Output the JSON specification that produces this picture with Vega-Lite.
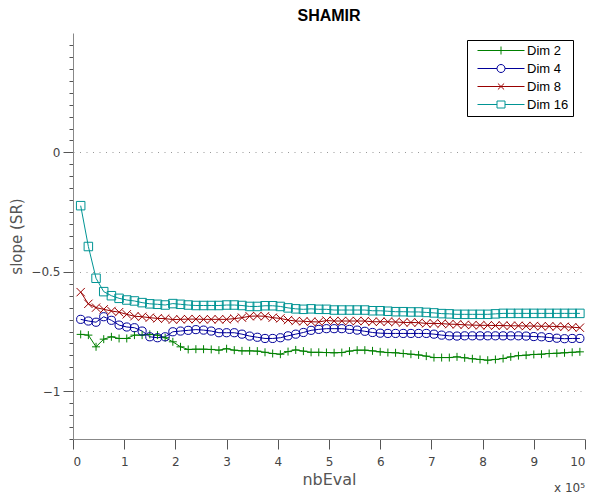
{
  "$schema": "https://vega.github.io/schema/vega-lite/v6.json",
  "width": 512,
  "height": 406,
  "autosize": {"type": "none"},
  "padding": {"left": 73, "top": 33, "right": 9, "bottom": 58},
  "title": {"text": "SHAMIR", "fontSize": 16, "fontWeight": "bold", "font": "Liberation Sans", "color": "#000000", "offset": 9, "anchor": "middle"},
  "resolve": {"scale": {"shape": "independent", "color": "independent"}},
  "config": {
    "view": {"stroke": null},
    "axis": {
      "labelFont": "DejaVu Sans",
      "titleFont": "DejaVu Sans",
      "labelColor": "#444444",
      "titleColor": "#555555",
      "titleFontWeight": "normal",
      "domainColor": "#888888",
      "tickColor": "#555555",
      "labelFontSize": 12,
      "tickCount": 100
    },
    "legend": {
      "labelFont": "Liberation Sans",
      "orient": "none",
      "legendX": 394,
      "legendY": 7,
      "fillColor": "#ffffff",
      "strokeColor": "#000000",
      "padding": 4,
      "cornerRadius": 0,
      "labelFontSize": 13,
      "labelColor": "#000000",
      "labelOffset": 43,
      "rowPadding": 4,
      "symbolSize": 64,
      "symbolStrokeWidth": 1,
      "symbolOpacity": 1
    }
  },
  "data": {
    "values": [
      {"x": 0.15, "Dim 2": -0.762, "Dim 4": -0.699, "Dim 8": -0.585, "Dim 16": -0.223},
      {"x": 0.3, "Dim 2": -0.765, "Dim 4": -0.706, "Dim 8": -0.634, "Dim 16": -0.394},
      {"x": 0.45, "Dim 2": -0.814, "Dim 4": -0.711, "Dim 8": -0.65, "Dim 16": -0.527},
      {"x": 0.6, "Dim 2": -0.782, "Dim 4": -0.688, "Dim 8": -0.657, "Dim 16": -0.583},
      {"x": 0.75, "Dim 2": -0.772, "Dim 4": -0.703, "Dim 8": -0.664, "Dim 16": -0.6},
      {"x": 0.9, "Dim 2": -0.779, "Dim 4": -0.723, "Dim 8": -0.669, "Dim 16": -0.611},
      {"x": 1.05, "Dim 2": -0.779, "Dim 4": -0.731, "Dim 8": -0.678, "Dim 16": -0.618},
      {"x": 1.2, "Dim 2": -0.765, "Dim 4": -0.734, "Dim 8": -0.686, "Dim 16": -0.622},
      {"x": 1.35, "Dim 2": -0.765, "Dim 4": -0.748, "Dim 8": -0.688, "Dim 16": -0.629},
      {"x": 1.5, "Dim 2": -0.762, "Dim 4": -0.772, "Dim 8": -0.692, "Dim 16": -0.634},
      {"x": 1.65, "Dim 2": -0.765, "Dim 4": -0.776, "Dim 8": -0.695, "Dim 16": -0.636},
      {"x": 1.8, "Dim 2": -0.776, "Dim 4": -0.772, "Dim 8": -0.696, "Dim 16": -0.639},
      {"x": 1.95, "Dim 2": -0.793, "Dim 4": -0.751, "Dim 8": -0.7, "Dim 16": -0.633},
      {"x": 2.1, "Dim 2": -0.814, "Dim 4": -0.748, "Dim 8": -0.699, "Dim 16": -0.636},
      {"x": 2.25, "Dim 2": -0.825, "Dim 4": -0.745, "Dim 8": -0.698, "Dim 16": -0.639},
      {"x": 2.4, "Dim 2": -0.824, "Dim 4": -0.742, "Dim 8": -0.698, "Dim 16": -0.641},
      {"x": 2.55, "Dim 2": -0.824, "Dim 4": -0.744, "Dim 8": -0.699, "Dim 16": -0.641},
      {"x": 2.7, "Dim 2": -0.825, "Dim 4": -0.748, "Dim 8": -0.699, "Dim 16": -0.641},
      {"x": 2.85, "Dim 2": -0.828, "Dim 4": -0.755, "Dim 8": -0.699, "Dim 16": -0.641},
      {"x": 3.0, "Dim 2": -0.822, "Dim 4": -0.755, "Dim 8": -0.699, "Dim 16": -0.639},
      {"x": 3.15, "Dim 2": -0.828, "Dim 4": -0.755, "Dim 8": -0.696, "Dim 16": -0.639},
      {"x": 3.3, "Dim 2": -0.831, "Dim 4": -0.761, "Dim 8": -0.692, "Dim 16": -0.641},
      {"x": 3.45, "Dim 2": -0.831, "Dim 4": -0.769, "Dim 8": -0.686, "Dim 16": -0.645},
      {"x": 3.6, "Dim 2": -0.832, "Dim 4": -0.774, "Dim 8": -0.685, "Dim 16": -0.645},
      {"x": 3.75, "Dim 2": -0.837, "Dim 4": -0.779, "Dim 8": -0.686, "Dim 16": -0.642},
      {"x": 3.9, "Dim 2": -0.842, "Dim 4": -0.779, "Dim 8": -0.692, "Dim 16": -0.642},
      {"x": 4.05, "Dim 2": -0.845, "Dim 4": -0.776, "Dim 8": -0.695, "Dim 16": -0.645},
      {"x": 4.2, "Dim 2": -0.834, "Dim 4": -0.768, "Dim 8": -0.702, "Dim 16": -0.651},
      {"x": 4.35, "Dim 2": -0.827, "Dim 4": -0.761, "Dim 8": -0.706, "Dim 16": -0.655},
      {"x": 4.5, "Dim 2": -0.832, "Dim 4": -0.754, "Dim 8": -0.707, "Dim 16": -0.657},
      {"x": 4.65, "Dim 2": -0.837, "Dim 4": -0.745, "Dim 8": -0.709, "Dim 16": -0.655},
      {"x": 4.8, "Dim 2": -0.837, "Dim 4": -0.741, "Dim 8": -0.71, "Dim 16": -0.657},
      {"x": 4.95, "Dim 2": -0.838, "Dim 4": -0.738, "Dim 8": -0.704, "Dim 16": -0.657},
      {"x": 5.1, "Dim 2": -0.839, "Dim 4": -0.738, "Dim 8": -0.706, "Dim 16": -0.66},
      {"x": 5.25, "Dim 2": -0.838, "Dim 4": -0.738, "Dim 8": -0.706, "Dim 16": -0.66},
      {"x": 5.4, "Dim 2": -0.832, "Dim 4": -0.741, "Dim 8": -0.706, "Dim 16": -0.66},
      {"x": 5.55, "Dim 2": -0.828, "Dim 4": -0.744, "Dim 8": -0.706, "Dim 16": -0.66},
      {"x": 5.7, "Dim 2": -0.828, "Dim 4": -0.749, "Dim 8": -0.706, "Dim 16": -0.66},
      {"x": 5.85, "Dim 2": -0.831, "Dim 4": -0.754, "Dim 8": -0.709, "Dim 16": -0.663},
      {"x": 6.0, "Dim 2": -0.835, "Dim 4": -0.757, "Dim 8": -0.709, "Dim 16": -0.663},
      {"x": 6.15, "Dim 2": -0.838, "Dim 4": -0.758, "Dim 8": -0.709, "Dim 16": -0.665},
      {"x": 6.3, "Dim 2": -0.839, "Dim 4": -0.758, "Dim 8": -0.71, "Dim 16": -0.667},
      {"x": 6.45, "Dim 2": -0.842, "Dim 4": -0.758, "Dim 8": -0.712, "Dim 16": -0.667},
      {"x": 6.6, "Dim 2": -0.845, "Dim 4": -0.758, "Dim 8": -0.712, "Dim 16": -0.668},
      {"x": 6.75, "Dim 2": -0.848, "Dim 4": -0.758, "Dim 8": -0.713, "Dim 16": -0.668},
      {"x": 6.9, "Dim 2": -0.853, "Dim 4": -0.758, "Dim 8": -0.716, "Dim 16": -0.67},
      {"x": 7.05, "Dim 2": -0.859, "Dim 4": -0.761, "Dim 8": -0.716, "Dim 16": -0.672},
      {"x": 7.2, "Dim 2": -0.859, "Dim 4": -0.765, "Dim 8": -0.717, "Dim 16": -0.675},
      {"x": 7.35, "Dim 2": -0.859, "Dim 4": -0.768, "Dim 8": -0.719, "Dim 16": -0.676},
      {"x": 7.5, "Dim 2": -0.856, "Dim 4": -0.769, "Dim 8": -0.72, "Dim 16": -0.678},
      {"x": 7.65, "Dim 2": -0.86, "Dim 4": -0.768, "Dim 8": -0.722, "Dim 16": -0.678},
      {"x": 7.8, "Dim 2": -0.864, "Dim 4": -0.768, "Dim 8": -0.723, "Dim 16": -0.678},
      {"x": 7.95, "Dim 2": -0.867, "Dim 4": -0.768, "Dim 8": -0.724, "Dim 16": -0.678},
      {"x": 8.1, "Dim 2": -0.87, "Dim 4": -0.768, "Dim 8": -0.724, "Dim 16": -0.678},
      {"x": 8.25, "Dim 2": -0.867, "Dim 4": -0.768, "Dim 8": -0.725, "Dim 16": -0.676},
      {"x": 8.4, "Dim 2": -0.863, "Dim 4": -0.768, "Dim 8": -0.725, "Dim 16": -0.674},
      {"x": 8.55, "Dim 2": -0.856, "Dim 4": -0.768, "Dim 8": -0.726, "Dim 16": -0.674},
      {"x": 8.7, "Dim 2": -0.851, "Dim 4": -0.768, "Dim 8": -0.726, "Dim 16": -0.674},
      {"x": 8.85, "Dim 2": -0.849, "Dim 4": -0.769, "Dim 8": -0.727, "Dim 16": -0.674},
      {"x": 9.0, "Dim 2": -0.846, "Dim 4": -0.771, "Dim 8": -0.727, "Dim 16": -0.674},
      {"x": 9.15, "Dim 2": -0.845, "Dim 4": -0.772, "Dim 8": -0.728, "Dim 16": -0.674},
      {"x": 9.3, "Dim 2": -0.842, "Dim 4": -0.775, "Dim 8": -0.728, "Dim 16": -0.674},
      {"x": 9.45, "Dim 2": -0.841, "Dim 4": -0.778, "Dim 8": -0.729, "Dim 16": -0.674},
      {"x": 9.6, "Dim 2": -0.839, "Dim 4": -0.78, "Dim 8": -0.73, "Dim 16": -0.674},
      {"x": 9.75, "Dim 2": -0.837, "Dim 4": -0.779, "Dim 8": -0.732, "Dim 16": -0.674},
      {"x": 9.9, "Dim 2": -0.835, "Dim 4": -0.779, "Dim 8": -0.734, "Dim 16": -0.674}
    ]
  },
  "layer": [
    {
      "transform": [{"fold": ["Dim 2", "Dim 4", "Dim 8", "Dim 16"], "as": ["s", "v"]}],
      "mark": {"type": "line", "strokeWidth": 1},
      "encoding": {
        "x": {
          "field": "x", "type": "quantitative",
          "scale": {"domain": [0, 10], "nice": false},
          "axis": {
            "title": "nbEval", "titleFontSize": 16, "titlePadding": 4,
            "values": [0, 0.5, 1, 1.5, 2, 2.5, 3, 3.5, 4, 4.5, 5, 5.5, 6, 6.5, 7, 7.5, 8, 8.5, 9, 9.5, 10],
            "tickCount": 100,
            "format": "d",
            "labelExpr": "datum.value % 1 == 0 ? datum.label : ''",
            "tickSize": {"condition": {"test": "datum.value % 1 == 0", "value": 10}, "value": 5},
            "labelPadding": 7,
            "grid": false
          }
        },
        "y": {
          "field": "v", "type": "quantitative",
          "scale": {"domain": [-1.2, 0.5], "nice": false, "zero": false},
          "axis": {
            "title": "slope (SR)", "titleFontSize": 15, "titlePadding": 6,
            "values": [-1.2, -1.15, -1.1, -1.05, -1, -0.95, -0.9, -0.85, -0.8, -0.75, -0.7, -0.65, -0.6, -0.55, -0.5, -0.45, -0.4, -0.35, -0.3, -0.25, -0.2, -0.15, -0.1, -0.05, 0, 0.05, 0.1, 0.15, 0.2, 0.25, 0.3, 0.35, 0.4, 0.45],
            "tickCount": 100,
            "format": "~g",
            "labelExpr": "(abs(datum.value) < 0.001 || abs(datum.value + 0.5) < 0.001 || abs(datum.value + 1) < 0.001) ? datum.label : ''",
            "tickSize": {"condition": {"test": "abs(datum.value) < 0.001 || abs(datum.value + 0.5) < 0.001 || abs(datum.value + 1) < 0.001", "value": 10}, "value": 4},
            "labelPadding": 3,
            "grid": true,
            "gridColor": "#999999",
            "gridDash": [1, 5.5],
            "gridOpacity": {"condition": {"test": "abs(datum.value) < 0.001 || abs(datum.value + 0.5) < 0.001 || abs(datum.value + 1) < 0.001", "value": 1}, "value": 0}
          }
        },
        "color": {
          "field": "s", "type": "nominal",
          "scale": {"domain": ["Dim 2", "Dim 4", "Dim 8", "Dim 16"], "range": ["#008000", "#00009a", "#990000", "#009494"]},
          "legend": null
        }
      }
    },
    {
      "transform": [{"fold": ["Dim 2", "Dim 4", "Dim 8", "Dim 16"], "as": ["s", "v"]}],
      "mark": {"type": "point", "filled": false, "strokeWidth": 1, "opacity": 1},
      "encoding": {
        "x": {"field": "x", "type": "quantitative"},
        "y": {"field": "v", "type": "quantitative"},
        "color": {
          "field": "s", "type": "nominal",
          "scale": {"domain": ["Dim 2", "Dim 4", "Dim 8", "Dim 16"], "range": ["#008000", "#00009a", "#990000", "#009494"]},
          "legend": null
        },
        "shape": {
          "field": "s", "type": "nominal",
          "scale": {"domain": ["Dim 2", "Dim 4", "Dim 8", "Dim 16"], "range": ["M-1,0H1M0,-1V1", "circle", "M-1,-1L1,1M-1,1L1,-1", "square"]},
          "legend": null
        },
        "size": {
          "field": "s", "type": "nominal",
          "scale": {"domain": ["Dim 2", "Dim 4", "Dim 8", "Dim 16"], "range": [64, 72, 36, 50]},
          "legend": null
        }
      }
    },
    {
      "transform": [{"fold": ["Dim 2", "Dim 4", "Dim 8", "Dim 16"], "as": ["s", "v"]}, {"filter": "datum.x == 9.9"}],
      "mark": {"type": "point", "filled": false, "strokeWidth": 1, "opacity": 0, "size": 64},
      "encoding": {
        "x": {"field": "x", "type": "quantitative"},
        "y": {"field": "v", "type": "quantitative"},
        "color": {
          "field": "s", "type": "nominal",
          "scale": {"domain": ["Dim 2", "Dim 4", "Dim 8", "Dim 16"], "range": ["#008000", "#00009a", "#990000", "#009494"]},
          "legend": {"title": null}
        },
        "shape": {
          "field": "s", "type": "nominal",
          "scale": {"domain": ["Dim 2", "Dim 4", "Dim 8", "Dim 16"], "range": ["M0,0H11.75M5.875,-1V1", "M0,0H4.875M6.875,0H11.75M4.875,0A1,1,0,1,0,6.875,0A1,1,0,1,0,4.875,0", "M0,0H11.75M5.1,-0.75L6.65,0.75M5.1,0.75L6.65,-0.75", "M0,0H4.875M6.875,0H11.75M4.875,-0.875H6.875V0.875H4.875Z"]},
          "legend": {"title": null}
        }
      }
    },
    {
      "data": {"values": [{"t": "x 10\u2075"}]},
      "mark": {"type": "text", "align": "right", "baseline": "middle", "dy": 49, "dx": 0, "fontSize": 12, "font": "DejaVu Sans", "color": "#444444"},
      "encoding": {
        "x": {"datum": 10},
        "y": {"datum": -1.2},
        "text": {"field": "t"}
      }
    }
  ]
}
